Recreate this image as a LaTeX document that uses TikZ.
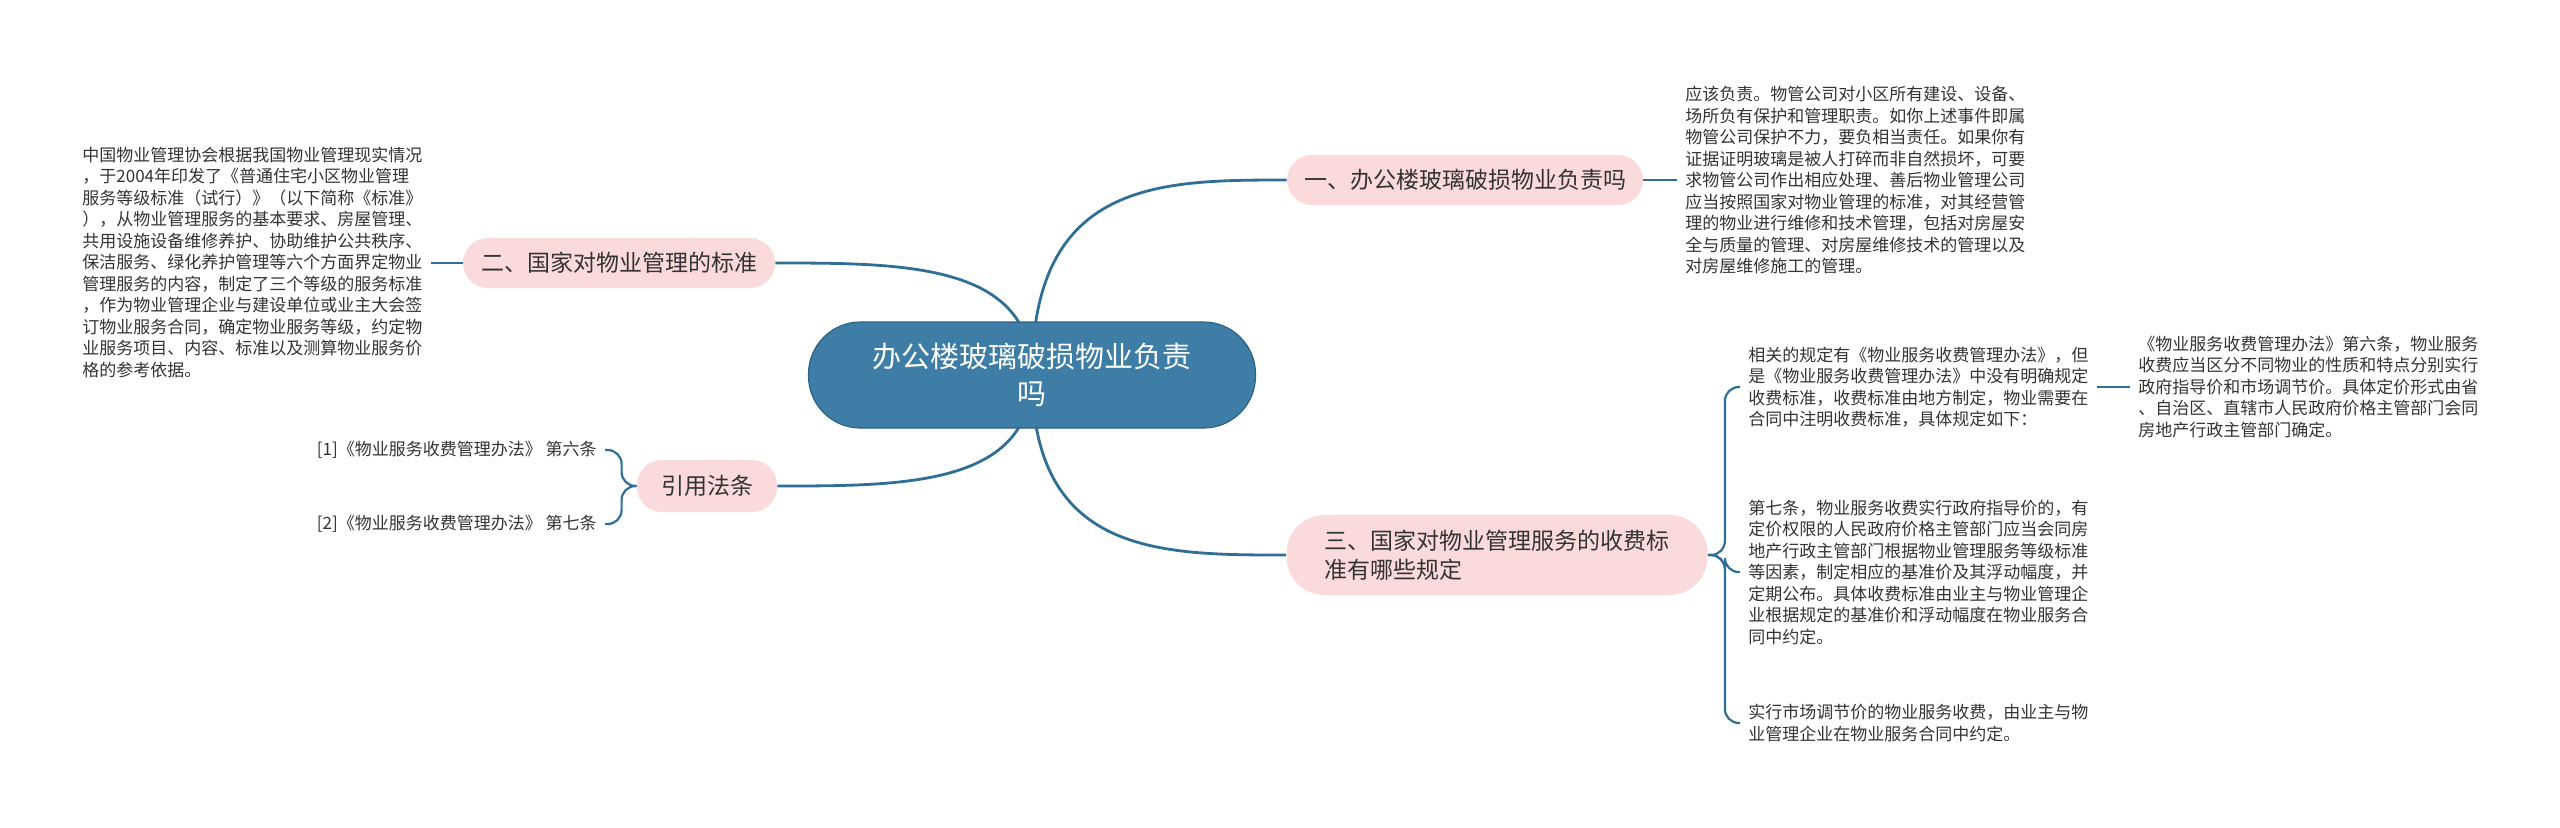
\documentclass[tikz,border=0pt]{standalone}
\usepackage{fontspec}
\setmainfont{Noto Sans CJK SC}
\usetikzlibrary{calc,backgrounds}
\definecolor{lineblue}{RGB}{47,111,150}
\definecolor{rootblue}{RGB}{62,126,166}
\definecolor{rootedge}{RGB}{44,98,132}
\definecolor{pinkfill}{RGB}{250,218,218}
\definecolor{textgray}{RGB}{51,51,51}
\begin{document}
\begin{tikzpicture}[x=0.5pt,y=-0.5pt,
  conn/.style={draw=lineblue, line width=1.4pt},
  subconn/.style={draw=lineblue, line width=1.1pt},
  bracket/.style={draw=lineblue, line width=1.1pt, rounded corners=7pt},
  rootbox/.style={rectangle, rounded corners=26pt, fill=rootblue, draw=rootedge, line width=0.6pt,
    text=white, font=\fontsize{14.5}{18.5}\selectfont, align=center,
    minimum width=223.5pt, minimum height=53pt, inner sep=0pt},
  branchbox/.style={rectangle, rounded corners=12.5pt, fill=pinkfill, text=textgray,
    font=\fontsize{11.5}{14.5}\selectfont, minimum height=25pt, inner sep=0pt},
  leafbox/.style={text=textgray, font=\fontsize{8.5}{10.75}\selectfont, align=left,
    inner xsep=4pt, inner ysep=2pt}
]
\useasboundingbox (0,0) rectangle (2560,827);

% root and branches
\node[rootbox] (root) at (1032,375) {办公楼玻璃破损物业负责\\吗};
\node[branchbox, minimum width=178pt] (b1) at (1465,180) {一、办公楼玻璃破损物业负责吗};
\node[branchbox, minimum width=156pt] (b2) at (619,263) {二、国家对物业管理的标准};
\node[branchbox, minimum width=210.5pt, minimum height=40pt, rounded corners=19pt, align=left]
  (b3) at (1497,555) {三、国家对物业管理服务的收费标\\准有哪些规定};
\node[branchbox, minimum width=70pt, minimum height=26pt] (b4) at (707,486) {引用法条};

% leaves
\node[leafbox, anchor=west] (l1) at (1677,180) {应该负责。物管公司对小区所有建设、设备、\\场所负有保护和管理职责。如你上述事件即属\\物管公司保护不力，要负相当责任。如果你有\\证据证明玻璃是被人打碎而非自然损坏，可要\\求物管公司作出相应处理、善后物业管理公司\\应当按照国家对物业管理的标准，对其经营管\\理的物业进行维修和技术管理，包括对房屋安\\全与质量的管理、对房屋维修技术的管理以及\\对房屋维修施工的管理。};
\node[leafbox, anchor=west] (l2) at (74,262) {中国物业管理协会根据我国物业管理现实情况\\，于2004年印发了《普通住宅小区物业管理\\服务等级标准（试行）》（以下简称《标准》\\），从物业管理服务的基本要求、房屋管理、\\共用设施设备维修养护、协助维护公共秩序、\\保洁服务、绿化养护管理等六个方面界定物业\\管理服务的内容，制定了三个等级的服务标准\\，作为物业管理企业与建设单位或业主大会签\\订物业服务合同，确定物业服务等级，约定物\\业服务项目、内容、标准以及测算物业服务价\\格的参考依据。};
\node[leafbox, anchor=west] (l3a) at (1740,387) {相关的规定有《物业服务收费管理办法》，但\\是《物业服务收费管理办法》中没有明确规定\\收费标准，收费标准由地方制定，物业需要在\\合同中注明收费标准，具体规定如下：};
\node[leafbox, anchor=west] (l3a1) at (2130,387) {《物业服务收费管理办法》第六条，物业服务\\收费应当区分不同物业的性质和特点分别实行\\政府指导价和市场调节价。具体定价形式由省\\、自治区、直辖市人民政府价格主管部门会同\\房地产行政主管部门确定。};
\node[leafbox, anchor=west] (l3b) at (1740,572) {第七条，物业服务收费实行政府指导价的，有\\定价权限的人民政府价格主管部门应当会同房\\地产行政主管部门根据物业管理服务等级标准\\等因素，制定相应的基准价及其浮动幅度，并\\定期公布。具体收费标准由业主与物业管理企\\业根据规定的基准价和浮动幅度在物业服务合\\同中约定。};
\node[leafbox, anchor=west] (l3c) at (1740,723) {实行市场调节价的物业服务收费，由业主与物\\业管理企业在物业服务合同中约定。};
\node[leafbox, anchor=east] (c1) at (605,450) {[1]《物业服务收费管理办法》 第六条};
\node[leafbox, anchor=east] (c2) at (605,524) {[2]《物业服务收费管理办法》 第七条};

\begin{scope}[on background layer]
  % main curves
  \draw[conn] (root.center) .. controls (root.center |- b1.west) and ($(root.center |- b1.west)!0.5!(b1.west)$) .. (b1.west);
  \draw[conn] (root.center) .. controls (root.center |- b2.east) and ($(root.center |- b2.east)!0.5!(b2.east)$) .. (b2.east);
  \draw[conn] (root.center) .. controls (root.center |- b3.west) and ($(root.center |- b3.west)!0.5!(b3.west)$) .. (b3.west);
  \draw[conn] (root.center) .. controls (root.center |- b4.east) and ($(root.center |- b4.east)!0.5!(b4.east)$) .. (b4.east);
  % straight leaf links
  \draw[subconn] (b1.east) -- (l1.west |- b1.east);
  \draw[subconn] (b2.west) -- (l2.east |- b2.west);
  \draw[subconn] (l3a.east) -- (l3a1.west |- l3a.east);
  % bracket of branch 3
  \draw[bracket] (b3.east) -- ($(b3.east)+(17,0)$) |- (l3a.west);
  \draw[bracket] (b3.east) -- ($(b3.east)+(17,0)$) |- (l3b.west);
  \draw[bracket] (b3.east) -- ($(b3.east)+(17,0)$) |- (l3c.west);
  % bracket of citations
  \draw[bracket] (b4.west) -- ($(b4.west)+(-15,0)$) |- (c1.east);
  \draw[bracket] (b4.west) -- ($(b4.west)+(-15,0)$) |- (c2.east);
\end{scope}
\end{tikzpicture}
\end{document}
